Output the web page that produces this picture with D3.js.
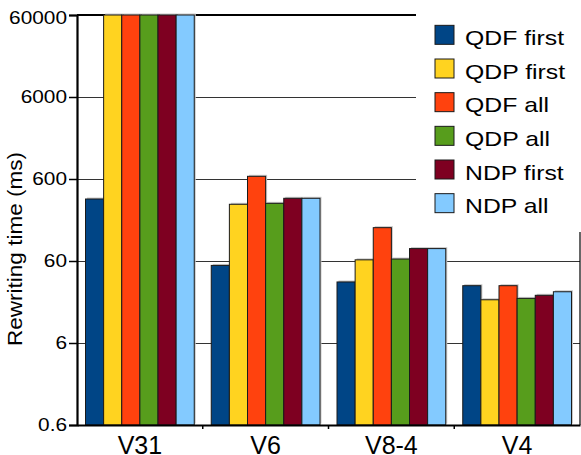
<!DOCTYPE html>
<html><head><meta charset="utf-8">
<script src="https://cdn.jsdelivr.net/npm/d3@7/dist/d3.min.js"></script>
<style>html,body{margin:0;padding:0;background:#fff;}svg{display:block;font-family:"Liberation Sans",Arial,sans-serif;}</style>
</head><body>
<script>
const categories = ["V31", "V6", "V8-4", "V4"];
const seriesNames = ["QDF first", "QDP first", "QDF all", "QDP all", "NDP first", "NDP all"];
const qdfFirst = [342, 53, 33.3, 30];
const qdpFirst = [60000, 295, 62, 20.2];
const qdfAll = [60000, 647, 153, 30];
const qdpAll = [60000, 303, 63.4, 21];
const ndpFirst = [60000, 349, 85, 22.9];
const ndpAll = [60000, 349, 85, 25.3];
const yTicks = [0.6, 6, 60, 600, 6000, 60000];
const yTickLabels = ["0.6", "6", "60", "600", "6000", "60000"];
const colors = ["#004586", "#ffd320", "#ff420e", "#579d1c", "#7e0021", "#83caff"];
const seriesValues = [qdfFirst, qdpFirst, qdfAll, qdpAll, ndpFirst, ndpAll];

(function () {
const W = 581, H = 455;
const pL = 77, pR = 580, pT = 15, pB = 425;
const svg = d3.select("body").append("svg").attr("width", W).attr("height", H);

function stretch(sel, k) {
  sel.each(function () {
    const w = this.getComputedTextLength();
    d3.select(this).attr("textLength", w * k).attr("lengthAdjust", "spacingAndGlyphs");
  });
}

const y = d3.scaleLog().domain([0.6, 60000]).range([pB, pT]);
const x0 = d3.scaleBand().domain(categories).range([pL, pR]);
const x1 = d3.scaleBand().domain(seriesNames).range([8.5, x0.bandwidth() - 8.5]);

// gridlines
svg.append("g").selectAll("line").data(yTicks.slice(1, -1)).join("line")
  .attr("x1", pL).attr("x2", pR)
  .attr("y1", d => Math.round(y(d)) + 0.5).attr("y2", d => Math.round(y(d)) + 0.5)
  .attr("stroke", "#333").attr("stroke-width", 1.1);
// frame top & right
svg.append("line").attr("x1", pL).attr("x2", pR).attr("y1", y(60000)).attr("y2", y(60000))
  .attr("stroke", "#000").attr("stroke-width", 2);
svg.append("line").attr("x1", pR).attr("x2", pR).attr("y1", pT).attr("y2", pB)
  .attr("stroke", "#000").attr("stroke-width", 1.2);

// bars
const rows = [];
categories.forEach((c, ci) => seriesNames.forEach((s, si) => rows.push({c, s, si, v: seriesValues[si][ci]})));
const gb = svg.append("g");
gb.selectAll("rect.sh").data(rows).join("rect").attr("class", "sh")
  .attr("x", d => x0(d.c) + x1(d.s) + 1.5)
  .attr("y", d => y(d.v) - 1.5)
  .attr("width", x1.bandwidth())
  .attr("height", d => pB - y(d.v))
  .attr("fill", "#c8c8c8");
gb.selectAll("rect.bar").data(rows).join("rect").attr("class", "bar")
  .attr("x", d => x0(d.c) + x1(d.s))
  .attr("y", d => y(d.v))
  .attr("width", x1.bandwidth())
  .attr("height", d => pB - y(d.v))
  .attr("fill", d => colors[d.si])
  .attr("stroke", "#1a1a1a").attr("stroke-width", 1);

// legend
const lg = svg.append("g");
lg.append("rect").attr("x", 416).attr("y", 4).attr("width", 165).attr("height", 228).attr("fill", "#fff");
const ly = d3.scaleBand().domain(seriesNames).range([18, 220]);
seriesNames.forEach((s, i) => {
  const cy = ly(s) + ly.bandwidth() / 2;
  lg.append("rect").attr("x", 435).attr("y", cy - 9.5).attr("width", 19).attr("height", 19)
    .attr("fill", colors[i]).attr("stroke", "#1a1a1a").attr("stroke-width", 1);
  lg.append("text").attr("x", 465).attr("y", cy + 10).attr("font-size", 21).attr("fill", "#000").text(s)
    .call(stretch, 1.18);
});

// y axis
const yAxis = d3.axisLeft(y).tickValues(yTicks).tickFormat((d, i) => yTickLabels[i]).tickSize(8).tickPadding(2);
const gy = svg.append("g").attr("transform", `translate(${pL},0)`).call(yAxis);
gy.select(".domain").attr("stroke", "#000").attr("stroke-width", 2.2);
gy.selectAll(".tick line").attr("stroke", "#000").attr("stroke-width", 1.5);
gy.selectAll(".tick text").attr("font-size", 18.6).attr("font-family", "Liberation Sans, Arial, sans-serif").attr("fill", "#000")
  .call(stretch, 1.12);
gy.selectAll(".tick").filter(d => d === 60000).select("text").attr("dy", "0.45em");

// x axis
const xAxis = d3.axisBottom(x0).tickSize(0).tickPadding(10);
const gx = svg.append("g").attr("transform", `translate(0,${pB})`).call(xAxis);
gx.select(".domain").attr("stroke", "#000").attr("stroke-width", 2.2);
gx.selectAll(".tick text").attr("font-size", 25).attr("font-family", "Liberation Sans, Arial, sans-serif").attr("fill", "#000")
  .attr("dy", null).attr("y", 29);
gx.selectAll("line.sep").data(categories.slice(1)).join("line").attr("class", "sep")
  .attr("x1", d => x0(d)).attr("x2", d => x0(d)).attr("y1", 0).attr("y2", 4)
  .attr("stroke", "#000").attr("stroke-width", 1.5);

// y title
svg.append("text").attr("transform", `translate(22,249) rotate(-90)`)
  .attr("text-anchor", "middle").attr("font-size", 20.5).attr("fill", "#000")
  .text("Rewriting time (ms)")
  .call(stretch, 1.1);
})();
</script>
</body></html>
